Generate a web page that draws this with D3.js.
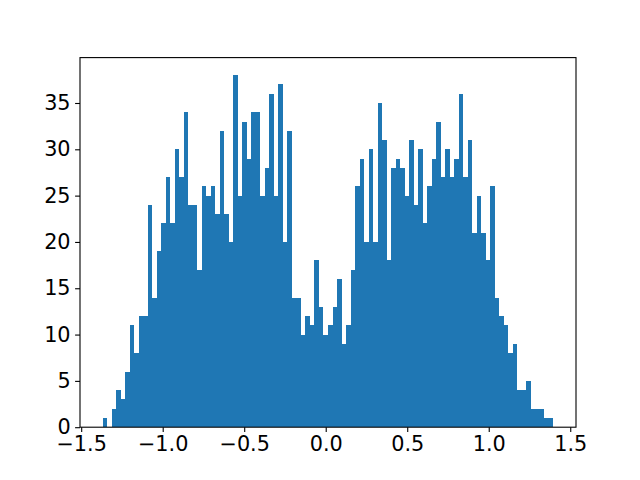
<!DOCTYPE html>
<html>
<head>
<meta charset="utf-8">
<script src="https://cdn.jsdelivr.net/npm/d3@7"></script>
<style>
	body { margin: 0; background: #fff; }
	text { font-family: "DejaVu Sans", sans-serif; }
</style>
</head>
<body>
<script>
// histogram counts, 100 bins
var counts = [1, 0, 2, 4, 3, 6, 11, 8, 12, 12,
	24, 14, 19, 22, 27, 22, 30, 27, 34, 24,
	24, 17, 26, 25, 26, 23, 32, 23, 20, 38,
	25, 33, 29, 34, 34, 25, 28, 36, 25, 37,
	20, 32, 14, 14, 10, 12, 11, 18, 13, 10,
	11, 13, 16, 9, 11, 17, 26, 29, 20, 30,
	20, 35, 31, 18, 28, 29, 28, 25, 31, 24,
	30, 22, 26, 29, 33, 27, 30, 27, 29, 36,
	27, 31, 21, 25, 21, 18, 26, 14, 12, 11,
	8, 9, 4, 4, 5, 2, 2, 2, 1, 1];

// range covered by the bins
var binRange = [-1.369, 1.397];

var xTicks = [-1.5, -1.0, -0.5, 0.0, 0.5, 1.0, 1.5];
var yTicks = [0, 5, 10, 15, 20, 25, 30, 35];

var width = 640, height = 480;
var margin = {top: 57.6, right: 64, bottom: 52.8, left: 80};

var svg = d3.select("body").append("svg")
	.attr("width", width)
	.attr("height", height);

var binWidth = (binRange[1] - binRange[0]) / counts.length;
var bins = counts.map(function(c, i) {
	return {x0: binRange[0] + i * binWidth, x1: binRange[0] + (i + 1) * binWidth, count: c};
});

// matplotlib style 5% margins on x, and on top of y
var span = binRange[1] - binRange[0];
var x = d3.scaleLinear()
	.domain([binRange[0] - 0.05 * span, binRange[1] + 0.05 * span])
	.range([margin.left, width - margin.right]);

var y = d3.scaleLinear()
	.domain([0, d3.max(counts) * 1.05])
	.range([height - margin.bottom, margin.top]);

svg.append("g")
	.selectAll("rect")
	.data(bins)
	.enter().append("rect")
	.attr("x", function(d) { return x(d.x0); })
	.attr("width", function(d) { return x(d.x1) - x(d.x0); })
	.attr("y", function(d) { return y(d.count); })
	.attr("height", function(d) { return y(0) - y(d.count); })
	.attr("fill", "#1f77b4")
	.attr("shape-rendering", "crispEdges");

// axes
var xAxis = d3.axisBottom(x)
	.tickValues(xTicks)
	.tickFormat(d3.format(".1f"))
	.tickSize(4.9)
	.tickPadding(4.5);

var yAxis = d3.axisLeft(y)
	.tickValues(yTicks)
	.tickFormat(d3.format("d"))
	.tickSize(4.9)
	.tickPadding(4.5);

var gx = svg.append("g")
	.attr("transform", "translate(0," + (height - margin.bottom) + ")")
	.call(xAxis);

var gy = svg.append("g")
	.attr("transform", "translate(" + margin.left + ",0)")
	.call(yAxis);

[gx, gy].forEach(function(g) {
	g.select(".domain").remove();
	g.selectAll(".tick line").attr("stroke", "#000").attr("stroke-width", 1.1);
	g.selectAll(".tick text")
		.attr("fill", "#000")
		.style("font-size", "20.8px")
		.style("font-family", "'DejaVu Sans', sans-serif");
});

// frame around the plot area
svg.append("rect")
	.attr("x", margin.left)
	.attr("y", margin.top)
	.attr("width", width - margin.left - margin.right)
	.attr("height", height - margin.top - margin.bottom)
	.attr("fill", "none")
	.attr("stroke", "#000")
	.attr("stroke-width", 1.1);
</script>
</body>
</html>
